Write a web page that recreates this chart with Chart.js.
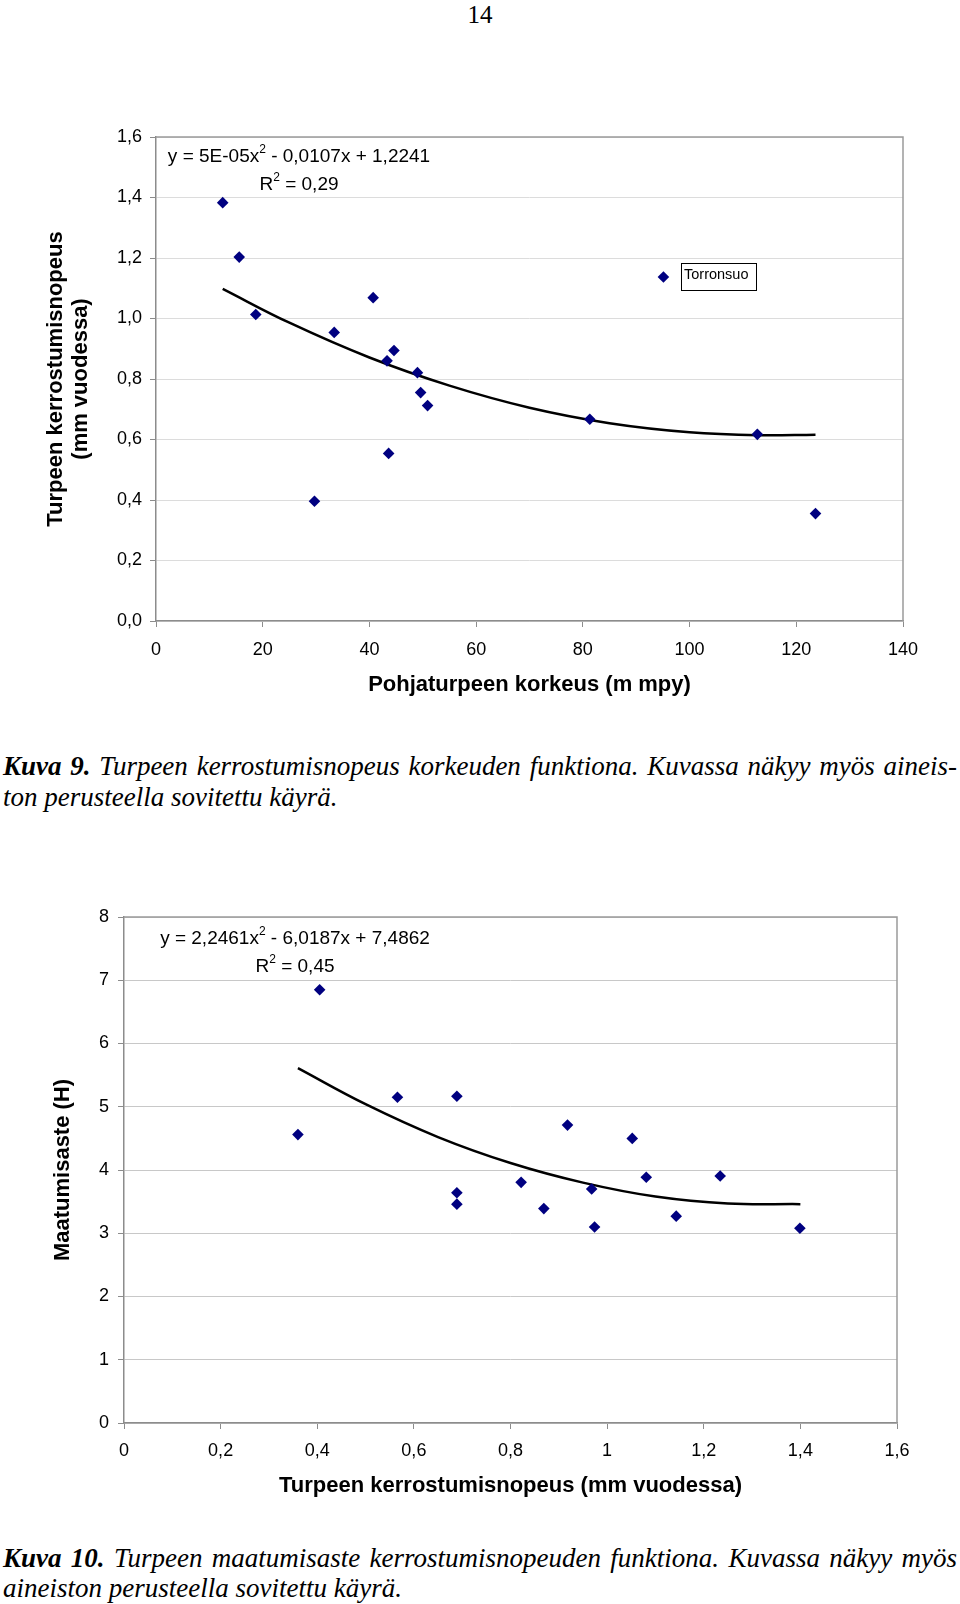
<!DOCTYPE html>
<html>
<head>
<meta charset="utf-8">
<script src="https://cdn.jsdelivr.net/npm/chart.js@4.4.0/dist/chart.umd.min.js"></script>
<style>
  body { margin: 0; background: #fff; width: 960px; height: 1604px; position: relative; overflow: hidden; }
  .pg { position: absolute; left: 0; top: 2px; width: 960px; text-align: center;
        font: 25px/25px "Liberation Serif", "Times New Roman", serif; }
  .cap { position: absolute; left: 3px; width: 954px; color: #000;
         font: italic 27px/31px "Liberation Serif", "Times New Roman", serif; }
  .cap .l1 { text-align: justify; text-align-last: justify; }
  canvas { position: absolute; left: 0; }
  #c1 { top: 110px; }
  #c2 { top: 850px; }
</style>
</head>
<body>
<div class="pg">14</div>
<canvas id="c1" width="960" height="600"></canvas>
<div class="cap" style="top:751px">
  <div class="l1"><b>Kuva 9.</b> Turpeen kerrostumisnopeus korkeuden funktiona. Kuvassa näkyy myös aineis-</div>
  <div>ton perusteella sovitettu käyrä.</div>
</div>
<canvas id="c2" width="960" height="660"></canvas>
<div class="cap" style="top:1543px; line-height:30px">
  <div class="l1"><b>Kuva 10.</b> Turpeen maatumisaste kerrostumisnopeuden funktiona. Kuvassa näkyy myös</div>
  <div>aineiston perusteella sovitettu käyrä.</div>
</div>
<script>
// Kuva 9: korkeus (m mpy) vs kerrostumisnopeus (mm/v)
var heights = [12.5, 15.6, 18.7, 29.7, 33.4, 40.7, 43.3, 43.6, 44.6, 49.0, 49.6, 50.9, 81.3, 95.1, 112.7, 123.6];
var rates = [1.383, 1.203, 1.013, 0.396, 0.954, 1.069, 0.860, 0.554, 0.894, 0.821, 0.755, 0.712, 0.667, 1.137, 0.617, 0.355];
var torronsuoIdx = 13;
// trend curve
var trendX1 = [12.5, 25, 40, 55, 70, 85, 100, 113, 123.6];
var trendY1 = [1.098, 0.986, 0.871, 0.778, 0.705, 0.654, 0.624, 0.614, 0.616];
var xLabels1 = ["0", "20", "40", "60", "80", "100", "120", "140"];
var yLabels1 = ["0,0", "0,2", "0,4", "0,6", "0,8", "1,0", "1,2", "1,4", "1,6"];

// Kuva 10: kerrostumisnopeus vs maatumisaste (H)
var rates2 = [0.360, 0.405, 0.566, 0.689, 0.689, 0.689, 0.822, 0.869, 0.918, 0.968, 0.974, 1.052, 1.081, 1.143, 1.234, 1.399];
var humif = [4.56, 6.85, 5.15, 5.165, 3.64, 3.46, 3.805, 3.39, 4.71, 3.70, 3.10, 4.50, 3.885, 3.27, 3.905, 3.08];
var trendX2 = [0.36, 0.5, 0.65, 0.8, 0.95, 1.1, 1.25, 1.4];
var trendY2 = [5.61, 5.04, 4.52, 4.11, 3.80, 3.58, 3.47, 3.46];
var xLabels2 = ["0", "0,2", "0,4", "0,6", "0,8", "1", "1,2", "1,4", "1,6"];
var yLabels2 = ["0", "1", "2", "3", "4", "5", "6", "7", "8"];

var FONT = "'Liberation Sans', Arial, sans-serif";

function pts(xs, ys) {
  return xs.map(function (x, i) { return { x: x, y: ys[i] }; });
}

// gray top and right edges of the plot area
var framePlugin = {
  id: "frame",
  beforeDatasetsDraw: function (chart) {
    var a = chart.chartArea, c = chart.ctx;
    c.save();
    c.strokeStyle = "#9a9a9a";
    c.lineWidth = 1.5;
    c.beginPath();
    c.moveTo(a.left, a.top);
    c.lineTo(a.right, a.top);
    c.lineTo(a.right, a.bottom);
    c.stroke();
    c.restore();
  }
};

// trendline equation text, lines centred at dx from plot left
function eqPlugin(lines, dx, dy) {
  return {
    id: "eq",
    afterDatasetsDraw: function (chart) {
      var c = chart.ctx, a = chart.chartArea;
      c.save();
      c.fillStyle = "#000";
      c.textBaseline = "middle";
      lines.forEach(function (parts, i) {
        var w = 0;
        parts.forEach(function (p) {
          c.font = (p.sup ? "12px " : "19px ") + FONT;
          w += c.measureText(p.t).width;
        });
        var x = a.left + dx - w / 2;
        var y = a.top + dy + i * 28;
        parts.forEach(function (p) {
          c.font = (p.sup ? "12px " : "19px ") + FONT;
          c.fillText(p.t, x, p.sup ? y - 7 : y);
          x += c.measureText(p.t).width;
        });
      });
      c.restore();
    }
  };
}

var torronsuoPlugin = {
  id: "torronsuo",
  afterDatasetsDraw: function (chart) {
    var pt = chart.getDatasetMeta(0).data[torronsuoIdx];
    var c = chart.ctx;
    var bx = Math.round(pt.x + 18), by = Math.round(pt.y - 14);
    c.save();
    c.fillStyle = "#fff";
    c.fillRect(bx, by, 75, 27);
    c.strokeStyle = "#000";
    c.lineWidth = 1;
    c.strokeRect(bx + 0.5, by + 0.5, 75, 27);
    c.fillStyle = "#000";
    c.font = "14.5px " + FONT;
    c.textBaseline = "alphabetic";
    c.fillText("Torronsuo", bx + 3, by + 16);
    c.restore();
  }
};

function makeChart(id, o) {
  return new Chart(document.getElementById(id), {
    type: "scatter",
    data: {
      datasets: [
        {
          data: pts(o.xs, o.ys),
          pointStyle: "rectRot",
          pointRadius: 5.8,
          backgroundColor: "#000080",
          borderColor: "#000080",
          borderWidth: 0
        },
        {
          data: pts(o.tx, o.ty),
          showLine: true,
          tension: 0.4,
          pointRadius: 0,
          borderColor: "#000",
          borderWidth: 2.5
        }
      ]
    },
    options: {
      responsive: false,
      animation: false,
      layout: { padding: { top: o.padTop, right: o.padRight, left: 0, bottom: 0 } },
      plugins: { legend: { display: false }, tooltip: { enabled: false } },
      scales: {
        x: {
          type: "linear",
          min: o.xMin, max: o.xMax,
          ticks: {
            stepSize: o.xStep,
            color: "#000",
            font: { size: 18, family: FONT },
            padding: o.xPad,
            callback: function (v, i) { return o.xLabels[i]; }
          },
          grid: { drawOnChartArea: false, tickLength: 6, tickColor: "#8c8c8c" },
          border: { color: "#8c8c8c", width: 1.5 },
          title: {
            display: true,
            text: o.xTitle,
            color: "#000",
            font: { size: 22, weight: "bold", family: FONT, lineHeight: 1.15 },
            padding: { top: 0, bottom: o.xTitlePad }
          },
          afterFit: function (s) { s.height = o.xHeight; }
        },
        y: {
          type: "linear",
          min: o.yMin, max: o.yMax,
          ticks: {
            stepSize: o.yStep,
            color: "#000",
            font: { size: 18, family: FONT },
            padding: o.yPad,
            callback: function (v, i) { return o.yLabels[i]; }
          },
          grid: { color: o.gridColor, tickLength: 6, tickColor: "#8c8c8c" },
          border: { color: "#8c8c8c", width: 1.5 },
          title: {
            display: true,
            text: o.yTitle,
            color: "#000",
            font: { size: 22, weight: "bold", family: FONT, lineHeight: 1.15 },
            padding: { top: o.yTitlePad, bottom: 0 }
          },
          afterFit: function (s) { s.width = o.yWidth; }
        }
      }
    },
    plugins: o.plugins
  });
}

makeChart("c1", {
  xs: heights, ys: rates, tx: trendX1, ty: trendY1,
  xMin: 0, xMax: 140, xStep: 20, xLabels: xLabels1,
  yMin: 0, yMax: 1.6, yStep: 0.2, yLabels: yLabels1,
  padTop: 27, padRight: 57, xHeight: 89, yWidth: 156,
  xPad: 12, yPad: 8, xTitlePad: 12, yTitlePad: 43,
  gridColor: "#dcdcdc",
  xTitle: "Pohjaturpeen korkeus (m mpy)",
  yTitle: ["Turpeen kerrostumisnopeus", "(mm vuodessa)"],
  plugins: [framePlugin, torronsuoPlugin, eqPlugin([
    [{ t: "y = 5E-05x" }, { t: "2", sup: true }, { t: " - 0,0107x + 1,2241" }],
    [{ t: "R" }, { t: "2", sup: true }, { t: " = 0,29" }]
  ], 143, 20)]
});

makeChart("c2", {
  xs: rates2, ys: humif, tx: trendX2, ty: trendY2,
  xMin: 0, xMax: 1.6, xStep: 0.2, xLabels: xLabels2,
  yMin: 0, yMax: 8, yStep: 1, yLabels: yLabels2,
  padTop: 67, padRight: 63, xHeight: 87, yWidth: 124,
  xPad: 11, yPad: 9, xTitlePad: 11, yTitlePad: 50,
  gridColor: "#c8c8c8",
  xTitle: "Turpeen kerrostumisnopeus (mm vuodessa)",
  yTitle: "Maatumisaste (H)",
  plugins: [framePlugin, eqPlugin([
    [{ t: "y = 2,2461x" }, { t: "2", sup: true }, { t: " - 6,0187x + 7,4862" }],
    [{ t: "R" }, { t: "2", sup: true }, { t: " = 0,45" }]
  ], 171, 22)]
});
</script>
</body>
</html>
